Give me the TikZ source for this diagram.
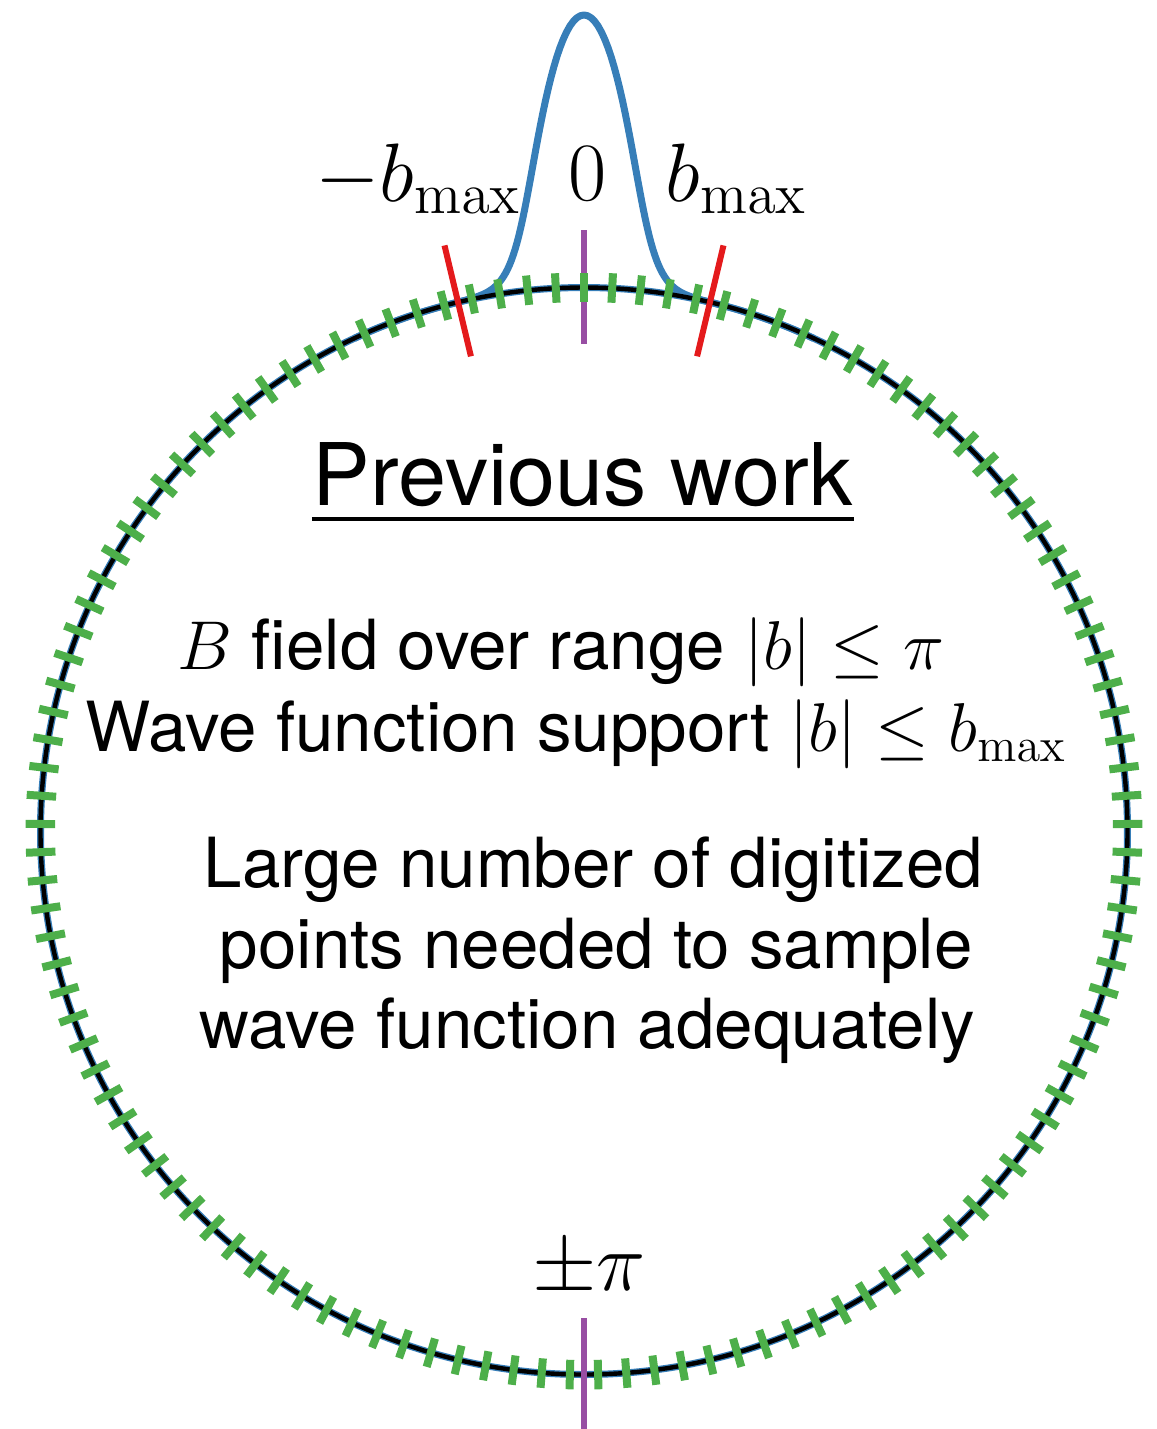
\documentclass[tikz,border=0pt]{standalone}
\usepackage[no-math]{fontspec}
\newfontfamily\heros{TeX Gyre Heros}
\definecolor{sblue}{HTML}{377EB8}
\definecolor{sgreen}{HTML}{4DAF4A}
\definecolor{sred}{HTML}{E41A1C}
\definecolor{spurple}{HTML}{984EA3}
\tikzset{
  wavecurve/.style={draw=sblue, line width=1.75pt, line join=round},
  ringline/.style={draw=black, line width=1.1pt},
  gridtick/.style={draw=sgreen, line width=2pt},
  bmaxmark/.style={draw=sred, line width=1.5pt},
  zeromark/.style={draw=spurple, line width=1.5pt},
  bodytext/.style={inner sep=0pt, anchor=base west, font=\heros\fontsize{17.28}{20}\selectfont},
  mathlabel/.style={inner sep=0pt, font=\fontsize{20.74}{24}\selectfont},
}
\begin{document}
\begin{tikzpicture}[x=0.25pt,y=-0.25pt]
\useasboundingbox (0,0) rectangle (1157,1429);
\coordinate (O) at (584,831);
% blue wave function: halo around ring plus gaussian peak
\draw[wavecurve] (O) circle[radius=543.5];
\draw[wavecurve] plot[domain=-25:25, samples=201]
  ({584+(543.5+272.5*exp(-0.5*(\x/3.5)^2))*sin(\x)},
   {831-(543.5+272.5*exp(-0.5*(\x/3.5)^2))*cos(\x)});
% black ring
\draw[ringline] (O) circle[radius=543.5];
% purple marks at 0 and +-pi
\coordinate (zin) at (584,344);
\coordinate (zout) at (584,230);
\coordinate (pin) at (584,1318);
\coordinate (pout) at (584,1429);
\draw[zeromark] (zin) -- (zout);
\draw[zeromark] (pin) -- (pout);
% green digitization ticks
\foreach \k in {0,...,120}{
  \pgfmathsetmacro\ang{\k*(360/121)}
  \draw[gridtick] ({584+529*sin(\ang)},{831-529*cos(\ang)}) -- ({584+558.5*sin(\ang)},{831-558.5*cos(\ang)});
}
% red b_max marks
\coordinate (rlin) at ({584-488*sin(13.4)},{831-488*cos(13.4)});
\coordinate (rlout) at ({584-602*sin(13.4)},{831-602*cos(13.4)});
\coordinate (rrin) at ({584+488*sin(13.4)},{831-488*cos(13.4)});
\coordinate (rrout) at ({584+602*sin(13.4)},{831-602*cos(13.4)});
\draw[bmaxmark] (rlin) -- (rlout);
\draw[bmaxmark] (rrin) -- (rrout);
% labels
\node[mathlabel, anchor=base east] (lmin) at (522,201) {$-b_{\mathrm{max}}$};
\node[mathlabel, anchor=base] (lzero) at (588,200) {$0$};
\node[mathlabel, anchor=base west] (lmax) at (665,201) {$b_{\mathrm{max}}$};
\node[mathlabel, anchor=base] (lpi) at (589,1290) {$\pm\pi$};
% title
\node[inner sep=0pt, anchor=base west, font=\heros\fontsize{21.6}{26}\selectfont] (title) at (312,505) {Previous work};
\draw[line width=1pt] ([yshift=-3.4pt]title.base west) -- ([yshift=-3.4pt]title.base east);
% body text
\node[bodytext] (l1) at (177,669) {$B$ field over range $|b|\le\pi$};
\node[bodytext] (l2) at (85,751) {Wave function support $|b|\le b_{\mathrm{max}}$};
\node[bodytext] (l3) at (203,887) {Large number of digitized};
\node[bodytext] (l4) at (219,968) {points needed to sample};
\node[bodytext] (l5) at (199,1048) {wave function adequately};
\end{tikzpicture}
\end{document}
